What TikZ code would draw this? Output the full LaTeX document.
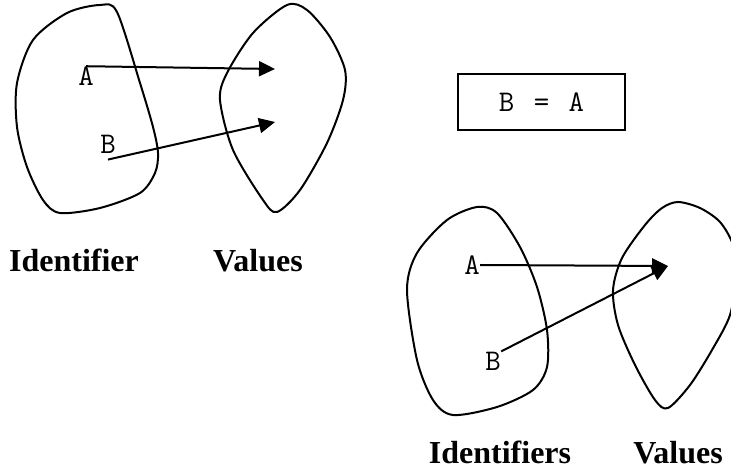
\documentclass[tikz,border=0pt]{standalone}
\usepackage{fontspec}
\setmainfont{Liberation Serif}
\usepackage{tikz}
\usetikzlibrary{arrows.meta,positioning}

\tikzset{
  kumeCizgi/.style={line width=1pt},
  harf/.style={font=\fontsize{15}{17}\selectfont\ttfamily,inner sep=0pt},
  baslik/.style={font=\fontsize{16}{18}\selectfont\bfseries,anchor=base},
  eslemeOk/.style={line width=1pt,-{Triangle[length=8pt,width=7.5pt]}}
}

\begin{document}
\begin{tikzpicture}[x=0.5pt,y=-0.5pt]
\useasboundingbox (0,0) rectangle (731,469);
\clip (0,0) rectangle (731,469);
% ust: atamadan once
\draw[kumeCizgi] plot[smooth cycle,tension=0.5] coordinates {
  (100,5) (117,12) (140,83) (153,127) (158,153) (155,173) (140,193)
  (100,208) (60,213) (43,200) (27,167) (17,127) (17,83) (33,40) (67,13)};
\draw[kumeCizgi] plot[smooth cycle,tension=0.5] coordinates {
  (287,5) (307,10) (330,37) (345,70) (343,100) (327,143) (300,190)
  (277,212) (263,200) (233,150) (220,100) (227,73) (253,33)};
\node[harf] (idA) at (86,76) {A};
\node[harf] (idB) at (108,144) {B};
\coordinate (degerA) at (275,69);
\coordinate (degerB) at (275,122);
\draw[eslemeOk] (idA.north) -- (degerA);
\draw[eslemeOk] ([yshift=-3]idB.south) -- (degerB);
\node[baslik] (adlar) at (74,272) {Identifier};
\node[baslik] (degerler) at (258,272) {Values};
% atama
\node[draw,line width=1pt,minimum width=83.5pt,minimum height=28pt,
  font=\fontsize{15}{17}\selectfont\ttfamily] (atama) at (541.5,102)
  {B\hspace{2pt} = \hspace{2pt}A};
% alt: atamadan sonra
\draw[kumeCizgi] plot[smooth cycle,tension=0.5] coordinates {
  (477,207) (497,213) (520,247) (537,287) (547,330) (547,367) (533,390)
  (497,407) (453,415) (433,400) (417,360) (407,290) (417,253) (447,220)};
\draw[kumeCizgi] plot[smooth cycle,tension=0.5] coordinates {
  (678,202) (700,208) (720,222) (733,245) (736,275) (730,315) (712,350)
  (690,385) (668,408) (655,400) (635,365) (618,325) (613,290) (622,258)
  (645,225) (662,208)};
\node[harf] (idA2) at (472,265) {A};
\node[harf] (idB2) at (493,361) {B};
\coordinate (deger2) at (668,266);
\draw[eslemeOk] (idA2.east) -- (deger2);
\draw[eslemeOk] (idB2.north east) -- (deger2);
\node[baslik] (adlar2) at (500,463) {Identifiers};
\node[baslik] (degerler2) at (678,463) {Values};
\end{tikzpicture}
\end{document}
